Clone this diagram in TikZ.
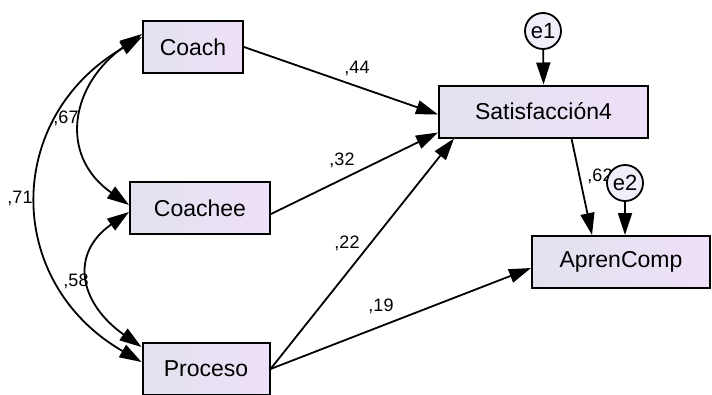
\documentclass[tikz,border=0pt]{standalone}
\usepackage{fontspec}
\setmainfont{Liberation Sans}
\usetikzlibrary{arrows.meta}

\definecolor{boxleft}{RGB}{226,226,238}
\definecolor{boxright}{RGB}{238,224,248}
\definecolor{errfill}{RGB}{240,238,248}

\begin{document}
\begin{tikzpicture}[x=1pt,y=-1pt,
  var/.style={draw,line width=2pt,left color=boxleft,right color=boxright,
    minimum height=52pt,inner sep=0pt,font=\fontsize{23}{23}\selectfont},
  err/.style={draw,circle,line width=1.8pt,fill=errfill,minimum size=36pt,
    inner sep=0pt,font=\fontsize{22}{22}\selectfont},
  reg/.style={line width=1.8pt,-{Triangle[length=22pt,width=14pt]}},
  cov/.style={line width=1.8pt,
    {Triangle[length=22pt,width=14pt]}-{Triangle[length=22pt,width=14pt]}},
  lab/.style={font=\fontsize{18}{18}\selectfont,inner sep=0pt}]
\useasboundingbox (0,0) rectangle (712,394);

% observed variables
\node[var,minimum width=100pt] (coach) at (193,47) {Coach};
\node[var,minimum width=140pt] (coachee) at (200,208) {Coachee};
\node[var,minimum width=127pt] (proceso) at (206,369) {Proceso};
\node[var,minimum width=209pt] (satis) at (543.5,111.5) {Satisfacción4};
\node[var,minimum width=178pt] (apren) at (621,262) {AprenComp};

% covariances
\draw[cov] ([yshift=13pt]coach.west) to[out=215,in=145,looseness=1.3]
  ([yshift=3pt]coachee.west);
\draw[cov] ([yshift=-4pt]coachee.west) to[out=215,in=145,looseness=1.4]
  ([yshift=22pt]proceso.west);
\draw[cov] ([yshift=10pt]coach.west) to[out=210,in=150,looseness=1.26]
  ([yshift=7pt]proceso.west);

% regressions
\draw[reg] (coach.east) -- ([yshift=-3pt]satis.west);
\draw[reg] ([yshift=-6pt]coachee.east) -- ([yshift=-21pt]satis.west);
\draw[reg] (proceso.east) -- ([xshift=16pt]satis.south west);
\draw[reg] (proceso.east) -- ([yshift=-6pt]apren.west);
\draw[reg] ([xshift=28pt]satis.south) -- ([xshift=-29pt]apren.north);

% estimates
\node[lab] (l44) at (357,68) {,44};
\node[lab] (l32) at (342,160) {,32};
\node[lab] (l22) at (347,243) {,22};
\node[lab] (l19) at (381,306) {,19};
\node[lab] (l62) at (600,176) {,62};
\node[lab] (l67) at (66,118) {,67};
\node[lab] (l58) at (76,281) {,58};
\node[lab] (l71) at (20,198) {,71};

% errors
\node[err] (e1) at (543,31) {e1};
\node[err] (e2) at (625,183) {e2};
\draw[reg] (e1) -- (satis.north);
\draw[reg] (e2) -- (e2 |- apren.north);
\end{tikzpicture}
\end{document}
